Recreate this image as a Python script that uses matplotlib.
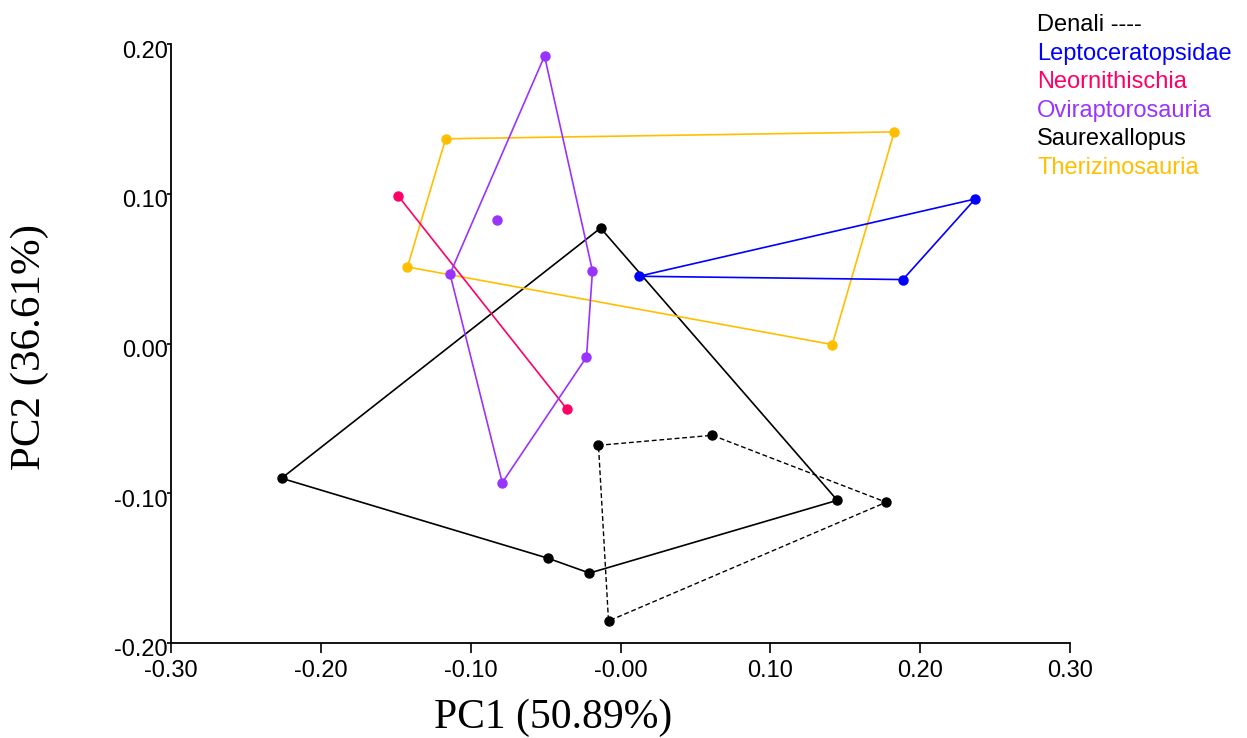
import matplotlib
matplotlib.use("Agg")
import matplotlib.pyplot as plt
import matplotlib.transforms as mtransforms

# ---- data (PC1, PC2), listed in outline order ----
denali_pc1 = [-0.0147, 0.0613, 0.1773, -0.0080]
denali_pc2 = [-0.0680, -0.0613, -0.1060, -0.1853]

saurex_pc1 = [-0.2262, -0.0133, 0.1447, -0.0207, -0.0487]
saurex_pc2 = [-0.0900, 0.0771, -0.1047, -0.1533, -0.1433]

lepto_pc1 = [0.0122, 0.2367, 0.1885]
lepto_pc2 = [0.0449, 0.0965, 0.0427]

neorn_pc1 = [-0.1485, -0.0360]
neorn_pc2 = [0.0987, -0.0435]

ovi_pc1 = [-0.0507, -0.0187, -0.0227, -0.0789, -0.1138, -0.0822]
ovi_pc2 = [0.1920, 0.0485, -0.0091, -0.0929, 0.0465, 0.0825]
ovi_hull = [0, 1, 2, 3, 4]

theri_pc1 = [-0.1167, 0.1827, 0.1413, -0.1422]
theri_pc2 = [0.1367, 0.1413, -0.0007, 0.0511]

x_ticks = [-0.30, -0.20, -0.10, 0.00, 0.10, 0.20, 0.30]
x_tick_labels = ["-0.30", "-0.20", "-0.10", "-0.00", "0.10", "0.20", "0.30"]
y_ticks = [-0.20, -0.10, 0.00, 0.10, 0.20]
y_tick_labels = ["-0.20", "-0.10", "0.00", "0.10", "0.20"]

legend_names = ["Denali ----", "Leptoceratopsidae", "Neornithischia",
                "Oviraptorosauria", "Saurexallopus", "Therizinosauria"]

C_BLACK = "#000000"
C_BLUE = "#0000FF"
C_RED = "#FF0066"
C_PURPLE = "#9933FF"
C_ORANGE = "#FFBF00"
legend_colors = [C_BLACK, C_BLUE, C_RED, C_PURPLE, C_BLACK, C_ORANGE]

SANS = "Liberation Sans"
SERIF = "Liberation Serif"

fig = plt.figure(figsize=(12.47, 7.38), dpi=100)
ax = fig.add_axes([171/1247, 1-643/738, (1070-171)/1247, (643-44)/738])


def closed(xs, ys, idx=None):
    if idx is None:
        idx = list(range(len(xs)))
    idx = idx + [idx[0]]
    return [xs[i] for i in idx], [ys[i] for i in idx]


lw = 1.2
ms = 6.5

# Saurexallopus
cx, cy = closed(saurex_pc1, saurex_pc2)
ax.plot(cx, cy, color=C_BLACK, lw=lw, zorder=2)
ax.plot(saurex_pc1, saurex_pc2, 'o', color=C_BLACK, ms=ms, zorder=3)

# Denali (dashed)
cx, cy = closed(denali_pc1, denali_pc2)
ax.plot(cx, cy, color=C_BLACK, lw=1.0, ls=(0, (3.5, 2)), zorder=2)
ax.plot(denali_pc1, denali_pc2, 'o', color=C_BLACK, ms=ms, zorder=3)

# Therizinosauria
cx, cy = closed(theri_pc1, theri_pc2)
ax.plot(cx, cy, color=C_ORANGE, lw=lw, zorder=2)
ax.plot(theri_pc1, theri_pc2, 'o', color=C_ORANGE, ms=ms, zorder=3)

# Leptoceratopsidae
cx, cy = closed(lepto_pc1, lepto_pc2)
ax.plot(cx, cy, color=C_BLUE, lw=lw, zorder=2)
ax.plot(lepto_pc1, lepto_pc2, 'o', color=C_BLUE, ms=ms, zorder=3)

# Neornithischia
ax.plot(neorn_pc1, neorn_pc2, color=C_RED, lw=lw, zorder=2)
ax.plot(neorn_pc1, neorn_pc2, 'o', color=C_RED, ms=ms, zorder=3)

# Oviraptorosauria
cx, cy = closed(ovi_pc1, ovi_pc2, ovi_hull)
ax.plot(cx, cy, color=C_PURPLE, lw=lw, zorder=2)
ax.plot(ovi_pc1, ovi_pc2, 'o', color=C_PURPLE, ms=ms, zorder=3)

ax.set_xlim(-0.30, 0.30)
ax.set_ylim(-0.20, 0.20)
for s in ("top", "right"):
    ax.spines[s].set_visible(False)
for s in ("left", "bottom"):
    ax.spines[s].set_linewidth(1.3)

ax.set_xticks(x_ticks)
ax.set_xticklabels(x_tick_labels, fontsize=17, family=SANS)
ax.set_yticks(y_ticks)
ax.set_yticklabels(y_tick_labels, fontsize=17, family=SANS)
ax.tick_params(axis='x', direction='out', length=7, width=1.2, pad=5)
ax.tick_params(axis='y', direction='out', length=3, width=1.2, pad=-2)
offset = mtransforms.ScaledTranslation(-2/100, -5/100, fig.dpi_scale_trans)
for lab in ax.get_yticklabels():
    lab.set_transform(lab.get_transform() + offset)

fig.text(553/1247, 1-718/738, "PC1 (50.89%)", family=SERIF, fontsize=30,
         ha='center', va='center')
fig.text(30/1247, 1-347/738, "PC2 (36.61%)", family=SERIF, fontsize=31,
         ha='center', va='center', rotation=90)

y0 = 25
dy = 28.6
for i, (name, col) in enumerate(zip(legend_names, legend_colors)):
    fig.text(1037/1247, 1-(y0 + i*dy)/738, name, color=col, family=SANS,
             fontsize=17, ha='left', va='center')

fig.savefig("out.png", dpi=100)
